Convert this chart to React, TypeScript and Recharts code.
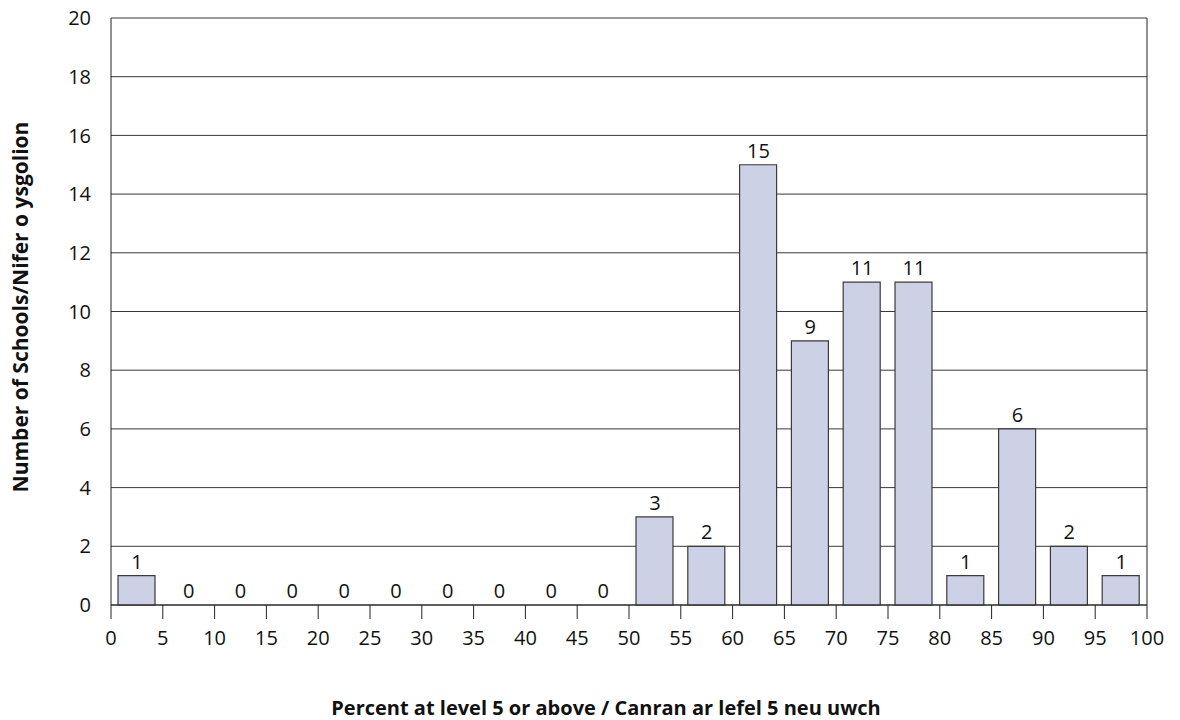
import { Bar, CartesianGrid, ComposedChart, ReferenceLine, Scatter, XAxis, YAxis } from "recharts";

// bin midpoints (percent at level 5 or above, 5-point bands)
const binMids = [2.5, 7.5, 12.5, 17.5, 22.5, 27.5, 32.5, 37.5, 42.5, 47.5, 52.5, 57.5, 62.5, 67.5, 72.5, 77.5, 82.5, 87.5, 92.5, 97.5];
const schoolCounts = [1, 0, 0, 0, 0, 0, 0, 0, 0, 0, 3, 2, 15, 9, 11, 11, 1, 6, 2, 1];

const xTicks = [0, 5, 10, 15, 20, 25, 30, 35, 40, 45, 50, 55, 60, 65, 70, 75, 80, 85, 90, 95, 100];
const yTicks = [0, 2, 4, 6, 8, 10, 12, 14, 16, 18, 20];

const data = binMids.map((mid, i) => ({ mid, count: schoolCounts[i] }));

const font = "'Open Sans', Lato, sans-serif";
const ink = "#222";

// value label above each bar, zero bins included
const CountLabel = (props: any) => {
  const { cx, cy, payload } = props;
  if (cx == null || cy == null) return null;
  return (
    <text x={cx} y={cy - 7} textAnchor="middle" fill="#111" fontSize={20} fontFamily={font}>
      {String(payload.count)}
    </text>
  );
};

export default function App() {
  return (
    <div style={{ position: "absolute", left: 0, top: 0, width: 1180, height: 720, background: "#fff", fontFamily: font }}>
      <ComposedChart width={1180} height={720} data={data} margin={{ top: 18, right: 33, left: 0, bottom: 0 }}>
        <CartesianGrid vertical={false} stroke={ink} strokeWidth={1} strokeOpacity={0.9} />
        <XAxis
          dataKey="mid"
          type="number"
          domain={[0, 100]}
          ticks={xTicks}
          interval={0}
          height={115}
          stroke={ink}
          tickSize={14}
          tickMargin={12}
          tick={{ fill: "#111", fontSize: 20, fontFamily: font }}
        />
        <YAxis
          type="number"
          domain={[0, 20]}
          ticks={yTicks}
          interval={0}
          width={111}
          stroke={ink}
          tickLine={false}
          tickMargin={14}
          tick={{ fill: "#111", fontSize: 20, fontFamily: font }}
        />
        <ReferenceLine x={100} stroke={ink} />
        <Bar dataKey="count" barSize={37} fill="#cdd1e5" stroke="#3a3a3a" strokeWidth={1.2} isAnimationActive={false} />
        <Scatter dataKey="count" shape={CountLabel} isAnimationActive={false} />
        <text x={20} y={307} transform="rotate(-90 20 307)" textAnchor="middle" dominantBaseline="central" fontSize={21} fontWeight={700} fill="#111" fontFamily={font}>
          Number of Schools/Nifer o ysgolion
        </text>
        <text x={606} y={707} textAnchor="middle" dominantBaseline="central" fontSize={20} fontWeight={700} fill="#111" fontFamily={font}>
          Percent at level 5 or above / Canran ar lefel 5 neu uwch
        </text>
      </ComposedChart>
    </div>
  );
}
